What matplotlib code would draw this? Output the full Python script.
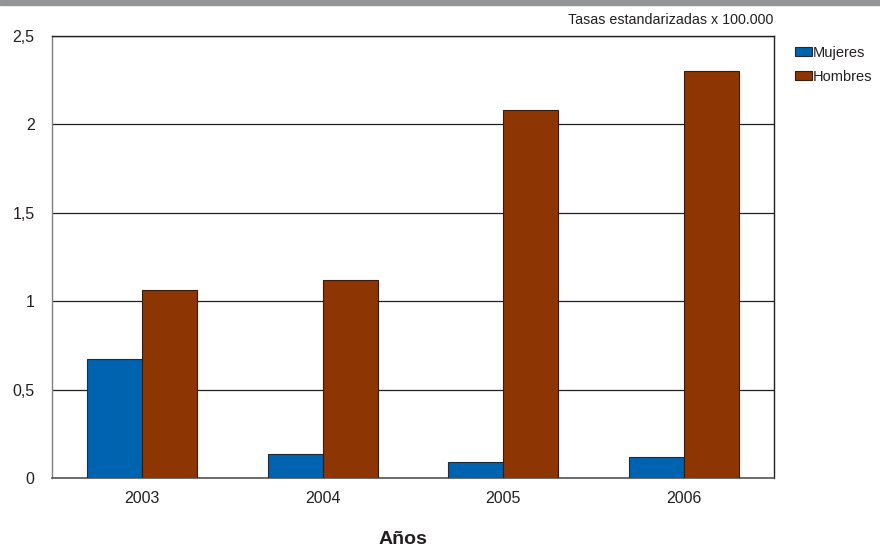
import matplotlib
matplotlib.use("Agg")
import matplotlib.pyplot as plt
import numpy as np
from matplotlib.patches import Rectangle

plt.rcParams['font.family'] = ['Liberation Sans', 'DejaVu Sans']

years = ["2003", "2004", "2005", "2006"]
mujeres = [0.672, 0.139, 0.09, 0.118]
hombres = [1.061, 1.117, 2.077, 2.297]
yticks = [0, 0.5, 1, 1.5, 2, 2.5]
ytick_labels = ["0", "0,5", "1", "1,5", "2", "2,5"]

c_m = "#0063AF"
c_h = "#8E3504"

W, H = 880, 548
fig = plt.figure(figsize=(W / 100, H / 100), dpi=100)
ax = fig.add_axes([52 / W, 1 - 478.3 / H, 722 / W, (478.3 - 35.5) / H])

x = np.arange(len(years))
bw = 0.305
ax.bar(x - bw / 2, mujeres, bw, color=c_m, edgecolor="#1f2a3a", linewidth=0.8, zorder=3, label="Mujeres")
ax.bar(x + bw / 2, hombres, bw, color=c_h, edgecolor="#3a1a0a", linewidth=0.8, zorder=3, label="Hombres")

ax.set_xlim(-0.5, len(years) - 0.5)
ax.set_ylim(0, 2.5)
ax.set_yticks(yticks)
ax.set_yticklabels(ytick_labels)
ax.set_xticks(x)
ax.set_xticklabels(years)
ax.tick_params(axis="both", length=0, labelsize=11.5, colors="#231f20")
ax.tick_params(axis="y", pad=12.5)
ax.tick_params(axis="x", pad=9)
ax.yaxis.grid(True, color="#231f20", linewidth=0.9, zorder=0)
for s in ["top", "right"]:
    ax.spines[s].set_color("#231f20")
    ax.spines[s].set_linewidth(1.0)
ax.spines["left"].set_color("#808080")
ax.spines["left"].set_linewidth(1.0)
ax.spines["bottom"].set_color("#555555")
ax.spines["bottom"].set_linewidth(1.2)

fig.text(403 / W, 1 - 540 / H, "Años", ha="center", va="center",
         fontsize=14, fontweight="bold", color="#231f20")

fig.text(773 / W, 1 - 20 / H, "Tasas estandarizadas x 100.000", ha="right", va="center",
         fontsize=10.3, color="#231f20")

# top gray band
fig.patches.append(Rectangle((0, 1 - 5 / H), 1, 5 / H, transform=fig.transFigure,
                             color="#939598", zorder=0))

leg = fig.legend(loc="upper left", bbox_to_anchor=(795 / W, 1 - 46 / H), frameon=False,
                 fontsize=10.5, handlelength=1.15, handleheight=0.55, handletextpad=0.05,
                 labelspacing=0.68, borderaxespad=0, borderpad=0)
for t in leg.get_texts():
    t.set_color("#231f20")

fig.savefig("out.png", dpi=100)
